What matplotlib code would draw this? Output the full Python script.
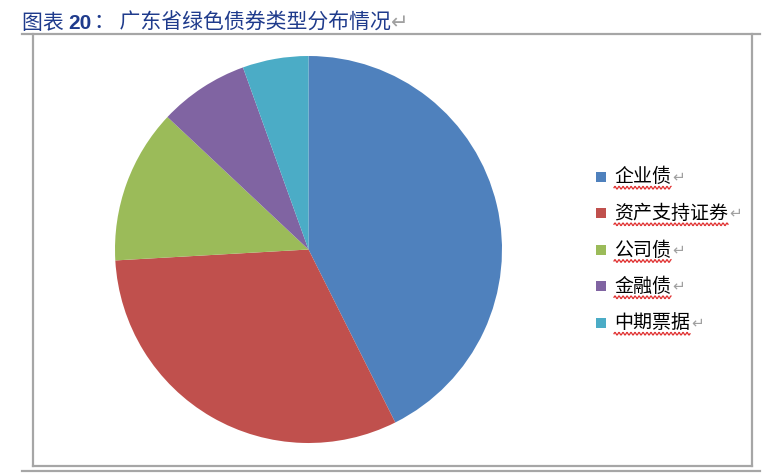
import numpy as np
import matplotlib
matplotlib.use("Agg")
import matplotlib.pyplot as plt
from matplotlib.patches import Rectangle
from matplotlib.lines import Line2D

plt.rcParams['font.family'] = ['Noto Sans CJK SC', 'DejaVu Sans']

categories = ["企业债", "资产支持证券", "公司债", "金融债", "中期票据"]
values = [42.6, 31.5, 12.9, 7.5, 5.5]
colors = ["#4F81BD", "#C0504D", "#9BBB59", "#8064A2", "#4BACC6"]
title_prefix = "图表 "
title_num = "20"
title_rest = "： 广东省绿色债券类型分布情况"

W, H = 782, 474
fig = plt.figure(figsize=(W / 100, H / 100), dpi=100)

def fx(px):
    return px / W

def fy(py):
    return 1 - py / H

# pie axes
cx, cy, r = 308.5, 249.5, 193.5
ax = fig.add_axes([fx(cx - r), fy(cy + r), 2 * r / W, 2 * r / H])
wedges, _ = ax.pie(values, colors=colors, startangle=90, counterclock=False,
                   wedgeprops=dict(linewidth=0))
ax.set_xlim(-1, 1)
ax.set_ylim(-1, 1)
ax.set_aspect('auto')
ax.axis('off')

gray = "#A6A6A6"
# frame box
fig.add_artist(Line2D([fx(22), fx(760)], [fy(34), fy(34)], color=gray, lw=1.6))
fig.add_artist(Line2D([fx(33), fx(33)], [fy(34), fy(466)], color=gray, lw=1.6))
fig.add_artist(Line2D([fx(752), fx(752)], [fy(34), fy(466)], color=gray, lw=1.6))
fig.add_artist(Line2D([fx(33), fx(752)], [fy(466), fy(466)], color=gray, lw=1.6))
fig.add_artist(Line2D([fx(22), fx(760)], [fy(470.5), fy(470.5)], color=gray, lw=1.6))

fig.canvas.draw()
renderer = fig.canvas.get_renderer()

# title
tcol = "#1F3B8C"
x = 22
base = 29
parts = [(title_prefix, 'normal', tcol, ['Noto Sans CJK SC', 'DejaVu Sans']),
         (title_num, 'bold', tcol, ['Liberation Sans']),
         (title_rest, 'normal', tcol, ['Noto Sans CJK SC', 'DejaVu Sans']),
         ("↵", 'normal', "#A0A0A0", ['DejaVu Sans'])]
for txt, wt, col, fam in parts:
    t = fig.text(fx(x), fy(base), txt, fontsize=15, fontweight=wt, color=col,
                 va='baseline', ha='left', family=fam)
    bb = t.get_window_extent(renderer)
    x += bb.width + (2 if txt == title_num else 0)

# legend
rows = [176.7, 213.3, 250.0, 286.3, 322.7]
for lab, col, yc in zip(categories, colors, rows):
    fig.add_artist(Rectangle((fx(596), fy(yc + 5)), 10 / W, 10 / H,
                             facecolor=col, edgecolor='none'))
    t = fig.text(fx(614), fy(yc), lab, fontsize=13.7, color='black',
                 va='center', ha='left')
    bb = t.get_window_extent(renderer)
    fig.text((bb.x1 + 1) / W, fy(yc), "↵", fontsize=11, color="#A0A0A0",
             va='center', ha='left', family=['DejaVu Sans'])
    # wavy underline
    xs = np.linspace(bb.x0, bb.x1, 200)
    yw = (H - (yc + 11)) + 1.3 * np.sin((xs - bb.x0) / 4.0 * 2 * np.pi)
    fig.add_artist(Line2D(xs / W, yw / H, color="#E03030", lw=0.9))

fig.savefig("out.png", dpi=100)
